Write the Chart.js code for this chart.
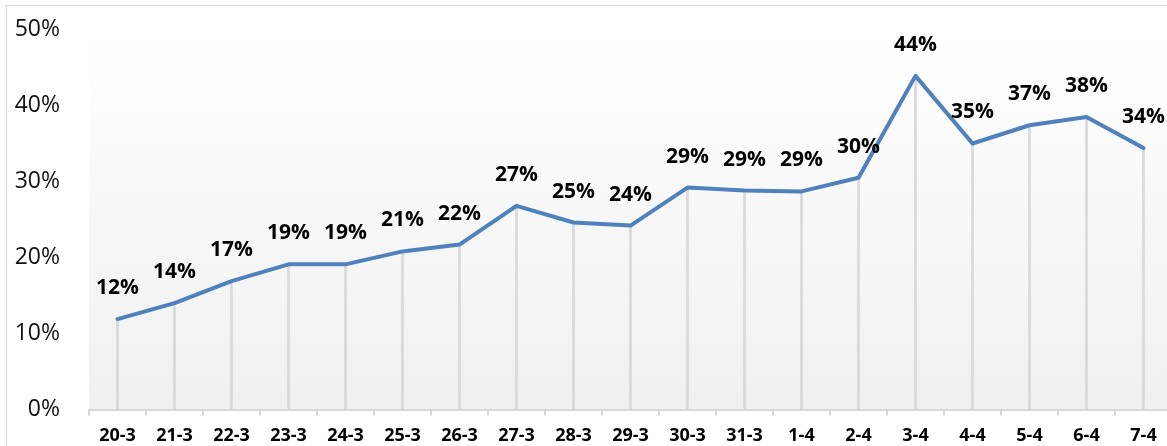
<!DOCTYPE html>
<html>
<head>
<meta charset="utf-8">
<script src="https://cdn.jsdelivr.net/npm/chart.js@4"></script>
<style>
  html, body { margin: 0; padding: 0; background: #fff; overflow: hidden; }
  #frame { position: absolute; left: 6px; top: 5px; width: 1300px; height: 600px; border: 1px solid #d9d9d9; }
  #c { position: absolute; left: 0; top: 0; }
</style>
</head>
<body>
<div id="frame"></div>
<canvas id="c" width="1190" height="446"></canvas>
<script>
  // daily share (labels show the rounded value)
  const days = ["20-3","21-3","22-3","23-3","24-3","25-3","26-3","27-3","28-3","29-3",
                "30-3","31-3","1-4","2-4","3-4","4-4","5-4","6-4","7-4"];
  const share = [11.9, 14.0, 16.9, 19.1, 19.1, 20.8, 21.7, 26.8, 24.6, 24.2,
                 29.2, 28.8, 28.7, 30.49, 43.9, 35.0, 37.4, 38.49, 34.4];
  const yTicks = [0, 10, 20, 30, 40, 50];

  const plotBg = {
    id: "plotBg",
    beforeDraw(chart) {
      const { ctx, chartArea: a } = chart;
      const g = ctx.createLinearGradient(0, a.top, 0, a.bottom);
      g.addColorStop(0, "#ffffff");
      g.addColorStop(1, "#f0f0f0");
      ctx.save();
      ctx.fillStyle = g;
      ctx.fillRect(a.left, a.top, a.right - a.left, a.bottom - a.top);
      ctx.restore();
    }
  };

  const pointLabels = {
    id: "pointLabels",
    afterDatasetsDraw(chart) {
      const { ctx } = chart;
      const meta = chart.getDatasetMeta(1);
      ctx.save();
      ctx.font = "bold 21px 'Open Sans'";
      ctx.fillStyle = "#000";
      ctx.textAlign = "center";
      ctx.textBaseline = "middle";
      meta.data.forEach((pt, i) => {
        ctx.fillText(Math.round(share[i]) + "%", pt.x, pt.y - 31);
      });
      ctx.restore();
    }
  };

  new Chart(document.getElementById("c"), {
    type: "bar",
    data: {
      labels: days,
      datasets: [
        { // drop lines
          type: "bar", data: share, backgroundColor: "#d9d9d9",
          barThickness: 2, order: 2
        },
        {
          type: "line", data: share, borderColor: "#4f81bd", borderWidth: 4,
          pointRadius: 0, tension: 0, fill: false, order: 1,
          borderJoinStyle: "round", borderCapStyle: "round"
        }
      ]
    },
    options: {
      responsive: false,
      animation: false,
      layout: { padding: { top: 29.5, right: 18, left: 0, bottom: 0 } },
      plugins: { legend: { display: false }, tooltip: { enabled: false } },
      scales: {
        x: {
          offset: true,
          afterFit(scale) { scale.height = 36.5; scale.paddingLeft = 0; scale.paddingRight = 0; },
          grid: { drawOnChartArea: false, drawTicks: true, tickLength: 6, color: "#d9d9d9", lineWidth: 2, offset: true },
          border: { display: true, color: "#d9d9d9", width: 2 },
          ticks: { font: { family: "'Open Sans'", size: 18, weight: "bold" }, color: "#000", padding: 10, maxRotation: 0, autoSkip: false }
        },
        y: {
          min: yTicks[0], max: yTicks[yTicks.length - 1],
          afterBuildTicks(scale) { scale.ticks = yTicks.map(v => ({ value: v })); },
          afterFit(scale) { scale.width = 89; scale.paddingTop = 0; scale.paddingBottom = 0; },
          grid: { display: false },
          border: { display: false },
          ticks: {
            font: { family: "'Open Sans'", size: 23 }, color: "#111", padding: 21,
            callback: v => v + "%"
          }
        }
      }
    },
    plugins: [plotBg, pointLabels]
  });
</script>
</body>
</html>
